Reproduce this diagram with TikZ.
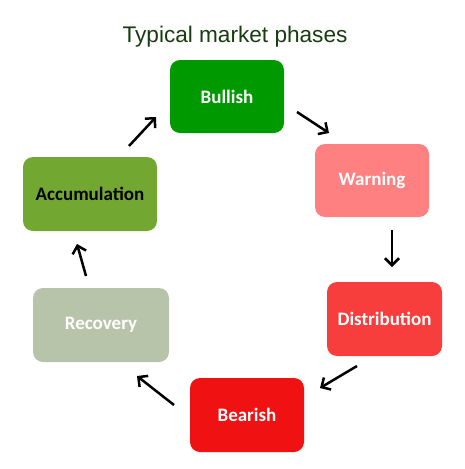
\documentclass[tikz,border=0pt]{standalone}
\usepackage{fontspec}
\setmainfont{Carlito}
\newfontfamily\titlefont{Liberation Sans}
\usetikzlibrary{arrows.meta}
\definecolor{cBull}{HTML}{009A00}
\definecolor{cWarn}{HTML}{FF8080}
\definecolor{cDist}{HTML}{F83D3D}
\definecolor{cBear}{HTML}{F01212}
\definecolor{cRec}{HTML}{B8C4A9}
\definecolor{cAcc}{HTML}{72A832}
\definecolor{cTitle}{HTML}{173D10}
\tikzset{
  phase/.style={rounded corners=10pt, minimum width=114pt, minimum height=73pt,
    font=\fontsize{19}{22}\selectfont\bfseries, text=white, inner sep=0pt},
  flow/.style={line width=2.5pt, -{Straight Barb[length=7pt,width=14pt]}, black},
}
\begin{document}
\begin{tikzpicture}[x=1pt,y=-1pt]
\useasboundingbox (0,0) rectangle (465,469);
\node[font=\titlefont\fontsize{22.6}{26}\selectfont, text=cTitle] (title) at (235,37) {Typical market phases};
\node[phase, fill=cBull] (bull) at (227,96.5) {Bullish};
\node[phase, fill=cWarn] (warn) at (372,180.5) {Warning};
\node[phase, fill=cDist, minimum width=115pt, minimum height=74pt] (dist) at (384.5,319) {Distribution};
\node[phase, fill=cBear, minimum height=74pt] (bear) at (247,415) {Bearish};
\node[phase, fill=cRec, minimum width=136pt, minimum height=74pt] (rec) at (101,325) {Recovery};
\node[phase, fill=cAcc, minimum width=134pt, minimum height=74pt, text=black] (acc) at (90,194) {Accumulation};
\coordinate (a1s) at (129,146); \coordinate (a1e) at (156,117);
\coordinate (a2s) at (297,112); \coordinate (a2e) at (329,133);
\coordinate (a3s) at (392,230); \coordinate (a3e) at (392,267);
\coordinate (a4s) at (357,366); \coordinate (a4e) at (320,388);
\coordinate (a5s) at (174,405); \coordinate (a5e) at (137,376);
\coordinate (a6s) at (86,276); \coordinate (a6e) at (77,244);
\draw[flow] (a1s) -- (a1e);
\draw[flow] (a2s) -- (a2e);
\draw[flow] (a3s) -- (a3e);
\draw[flow] (a4s) -- (a4e);
\draw[flow] (a5s) -- (a5e);
\draw[flow] (a6s) -- (a6e);
\end{tikzpicture}
\end{document}
